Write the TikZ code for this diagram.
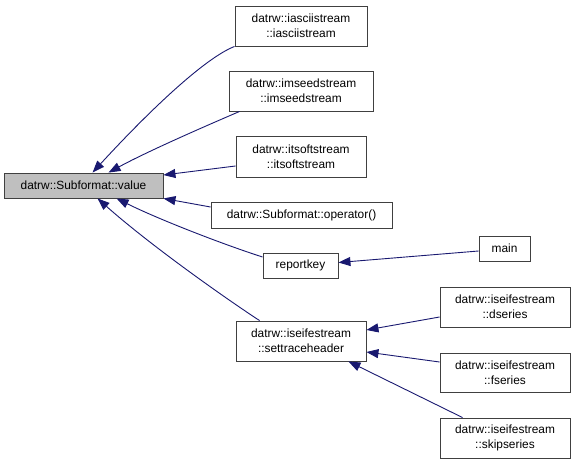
\documentclass[tikz,border=0pt]{standalone}
\usepackage{fontspec}
\setmainfont{Liberation Sans}
\usetikzlibrary{arrows.meta,calc}
\definecolor{edgeblue}{HTML}{191970}
\definecolor{boxline}{HTML}{404040}
\begin{document}
\begin{tikzpicture}[x=1pt,y=-1pt,
  box/.style={draw=boxline,line width=0.9pt,fill=white,inner sep=0pt,align=center,
    font=\fontsize{11.9}{15}\selectfont},
  edge/.style={draw=edgeblue,line width=0.9pt,-{Triangle[length=12pt,width=9pt]}}]
\useasboundingbox (0,0) rectangle (576,464);
\node[box,fill=black!25,minimum width=159pt,minimum height=25pt] (value) at (83.5,185.5) {datrw::Subformat::value};
\node[box,minimum width=132pt,minimum height=40pt] (iascii) at (301,26) {datrw::iasciistream\\::iasciistream};
\node[box,minimum width=144pt,minimum height=40pt] (imseed) at (301,91) {datrw::imseedstream\\::imseedstream};
\node[box,minimum width=130pt,minimum height=41pt] (itsoft) at (301,156.5) {datrw::itsoftstream\\::itsoftstream};
\node[box,minimum width=181pt,minimum height=26pt] (oper) at (301.5,215) {datrw::Subformat::operator()};
\node[box,minimum width=75pt,minimum height=25pt] (report) at (300.5,265.5) {reportkey};
\node[box,minimum width=51pt,minimum height=25pt] (main) at (504.5,248.5) {main};
\node[box,minimum width=130pt,minimum height=40pt] (settrace) at (301,341) {datrw::iseifestream\\::settraceheader};
\node[box,minimum width=130pt,minimum height=40pt] (dseries) at (505,307) {datrw::iseifestream\\::dseries};
\node[box,minimum width=130pt,minimum height=39pt] (fseries) at (505,372.5) {datrw::iseifestream\\::fseries};
\node[box,minimum width=130pt,minimum height=40pt] (skip) at (505,438) {datrw::iseifestream\\::skipseries};

\draw[edge] (iascii.south west) .. controls (205,58) and (150,110) .. ($(value.north west)+(89,0)$);
\draw[edge] ($(imseed.south west)+(11,0)$) .. controls (215,122) and (150,150) .. ($(value.north west)+(105,0)$);
\draw[edge] ($(itsoft.west)+(0,9.5)$) -- ($(value.east)+(0,-10.5)$);
\draw[edge] ($(oper.west)+(0,-8)$) -- (value.south east);
\draw[edge] ($(report.west)+(0,-8.5)$) .. controls (225,245) and (160,220) .. ($(value.south west)+(113,0)$);
\draw[edge] ($(settrace.north west)+(24,0)$) .. controls (225,298) and (150,245) .. ($(value.south west)+(94,0)$);
\draw[edge] ($(main.west)+(0,2.5)$) -- ($(report.east)+(0,-3)$);
\draw[edge] ($(dseries.west)+(0,10)$) -- ($(settrace.east)+(0,-11)$);
\draw[edge] ($(fseries.west)+(0,-10.5)$) -- ($(settrace.east)+(0,11)$);
\draw[edge] ($(skip.north west)+(23,0)$) -- ($(settrace.south east)+(-18,0)$);
\end{tikzpicture}
\end{document}
